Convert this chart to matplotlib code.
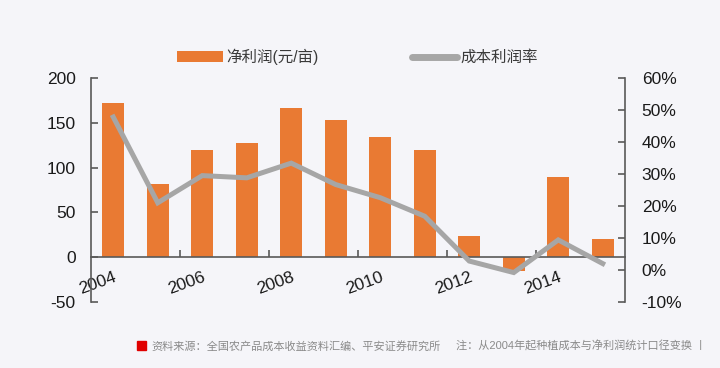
import matplotlib
matplotlib.use('Agg')
import matplotlib.pyplot as plt
import numpy as np
from matplotlib.ticker import PercentFormatter, FixedLocator
from matplotlib.lines import Line2D
from matplotlib.patches import Patch

plt.rcParams['font.family'] = ['Liberation Sans', 'Noto Sans CJK SC', 'DejaVu Sans']
plt.rcParams['axes.unicode_minus'] = False

years = ['2004', '2005', '2006', '2007', '2008', '2009', '2010', '2011',
         '2012', '2013', '2014', '2015']
net_profit = [172, 82, 120, 128, 167, 153, 134, 120, 24, -15, 89, 20]
profit_rate = [0.478, 0.21, 0.295, 0.288, 0.334, 0.267, 0.226, 0.168,
               0.028, -0.008, 0.094, 0.02]

bg = '#F5F5F9'
orange = '#E97A33'
grey = '#A6A6A6'
axcol = '#595959'
txt = '#1a1a1a'

fig = plt.figure(figsize=(7.2, 3.68), dpi=100, facecolor=bg)
ax = fig.add_axes([91/720, 1-302/368, (625-91)/720, (302-78)/368])
ax.set_facecolor(bg)
x = np.arange(len(years))
ax.bar(x, net_profit, width=0.5, color=orange, zorder=2)
ax.set_xlim(-0.5, len(years)-0.5)
ax.set_ylim(-50, 200)
ax.set_yticks([-50, 0, 50, 100, 150, 200])

for s in ['top', 'right']:
    ax.spines[s].set_visible(False)
ax.spines['bottom'].set_position(('data', 0))
for s in ['left', 'bottom']:
    ax.spines[s].set_color(axcol)
    ax.spines[s].set_linewidth(1.2)

# category labels every other year, tick marks between groups
ax.set_xticks(x[::2])
ax.set_xticklabels(years[::2])
ax.xaxis.set_minor_locator(FixedLocator([1.5, 3.5, 5.5, 7.5, 9.5]))
ax.tick_params(axis='x', which='major', length=0, pad=9, labelsize=12.5, labelcolor=txt)
ax.tick_params(axis='x', which='minor', direction='in', length=5, width=1.2, color=axcol)
for lab in ax.get_xticklabels():
    lab.set_rotation(20)
    lab.set_rotation_mode('anchor')
    lab.set_ha('right')
    lab.set_va('top')
ax.tick_params(axis='y', direction='in', length=5, width=1.2, color=axcol,
               pad=11, labelsize=12.5, labelcolor=txt)

ax2 = ax.twinx()
ax2.plot(x, profit_rate, color=grey, lw=3.6, solid_joinstyle='miter', zorder=3)
ax2.set_ylim(-0.1, 0.6)
ax2.set_yticks(np.arange(-0.1, 0.61, 0.1))
ax2.yaxis.set_major_formatter(PercentFormatter(xmax=1, decimals=0))
for s in ['top', 'left', 'bottom']:
    ax2.spines[s].set_visible(False)
ax2.spines['right'].set_color(axcol)
ax2.spines['right'].set_linewidth(1.2)
ax2.tick_params(axis='y', direction='in', length=5, width=1.2, color=axcol,
                pad=12, labelsize=12.5, labelcolor=txt)

handles = [Patch(facecolor=orange, edgecolor='none'),
           Line2D([0], [0], color=grey, lw=5, solid_capstyle='round')]
fig.legend(handles, ['净利润(元/亩)', '成本利润率'], loc='center left',
           bbox_to_anchor=(177/720, 1-57/368), ncol=2, frameon=False,
           borderpad=0, borderaxespad=0, handlelength=2.95, handleheight=0.7,
           handletextpad=0.2, columnspacing=6.0, prop={'size': 11.2},
           labelcolor='#3a3a3a')

# footer
fig.patches.append(plt.Rectangle((137/720, 1-350/368), 9/720, 9/368,
                                 transform=fig.transFigure, color='#E00000'))
fig.text(151/720, 1-346/368, '资料来源：全国农产品成本收益资料汇编、平安证券研究所',
         fontsize=8, color='#8a8a8a', va='center', ha='left')
fig.text(456/720, 1-346/368, '注：从2004年起种植成本与净利润统计口径变换 丨',
         fontsize=8, color='#8a8a8a', va='center', ha='left')

fig.savefig('out.png', dpi=100, facecolor=bg)
